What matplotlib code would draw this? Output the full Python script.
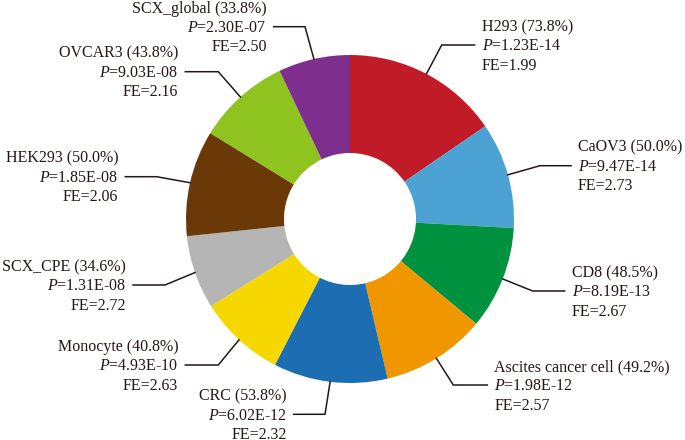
import matplotlib
matplotlib.use('Agg')
import matplotlib.pyplot as plt
import numpy as np

# ---- data ----
categories = ["H293", "CaOV3", "CD8", "Ascites cancer cell", "CRC", "Monocyte",
              "SCX_CPE", "HEK293", "OVCAR3", "SCX_global"]
percentages = [73.8, 50.0, 48.5, 49.2, 53.8, 40.8, 34.6, 50.0, 43.8, 33.8]
p_values = [1.23e-14, 9.47e-14, 8.19e-13, 1.98e-12, 6.02e-12, 4.93e-10,
            1.31e-08, 1.85e-08, 9.03e-08, 2.30e-07]
fold_enrichment = [1.99, 2.73, 2.67, 2.57, 2.32, 2.63, 2.72, 2.06, 2.16, 2.50]

# ---- style / layout ----
colors = ['#C21B28', '#4BA2D3', '#00923F', '#F09700', '#1C6DB1', '#F6D800',
          '#B4B5B4', '#6A3907', '#8FC31F', '#7E2F8E']
# elbow of leader line (pixel x, pixel y from top) and text anchor x
elbows = [(441.7, 45), (540, 165.7), (532.7, 291), (453.3, 385), (325, 414.3),
          (218.3, 365), (165, 285), (156.7, 176.7), (218.3, 71.7), (305, 26.7)]
text_x = [481.7, 578, 571.7, 494.3, 286.7, 178.3, 126, 118.3, 178.3, 266.7]

W, H = 685, 440
CX, CY = 350, 219          # pie centre in pixels (y from top)
R_OUT, R_IN = 164, 66
TXT = '#231815'

plt.rcParams['font.family'] = ['Liberation Serif', 'DejaVu Serif']
plt.rcParams['mathtext.fontset'] = 'custom'
plt.rcParams['mathtext.rm'] = 'Liberation Serif'
plt.rcParams['mathtext.it'] = 'Liberation Serif:italic'

fig = plt.figure(figsize=(W / 100, H / 100), dpi=100)
ax = fig.add_axes([0, 0, 1, 1])

def fy(y):
    return H - y

wedges, _ = ax.pie(percentages, colors=colors, startangle=90, counterclock=False,
                   center=(CX, fy(CY)), radius=R_OUT,
                   wedgeprops=dict(width=R_OUT - R_IN, linewidth=0))
ax.set_xlim(0, W)
ax.set_ylim(0, H)
ax.set_aspect('equal')
ax.axis('off')

fs = 11.5
gap = 7
ls = 19.3
for w, name, pct, p, fe, (ex, ey), tx in zip(wedges, categories, percentages, p_values,
                                              fold_enrichment, elbows, text_x):
    th = np.deg2rad((w.theta1 + w.theta2) / 2)
    sx = CX + R_OUT * np.cos(th)
    sy = fy(CY) + R_OUT * np.sin(th)
    left_aligned = tx > CX
    endx = tx - gap if left_aligned else tx + gap
    ax.plot([sx, ex, endx], [sy, fy(ey), fy(ey)], color=TXT, lw=1.1,
            solid_joinstyle='miter')
    ha = 'left' if left_aligned else 'right'
    lines = [f"{name} ({pct:.1f}%)", f"$\\mathit{{P}}$={p:.2E}", f"FE={fe:.2f}"]
    for i, t in enumerate(lines):
        yc = ey + (i - 1) * ls
        ax.text(tx, fy(yc + 5.2), t, ha=ha, va='baseline', fontsize=fs, color=TXT)

fig.savefig('out.png', dpi=100)
